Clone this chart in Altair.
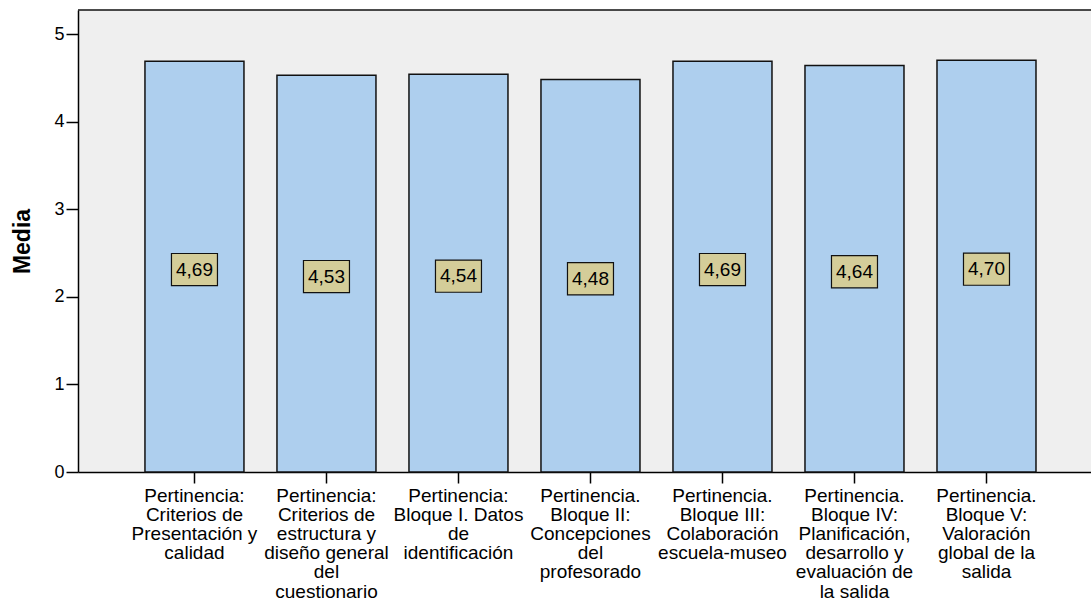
import altair as alt
import pandas as pd

# Category labels (line breaks mark where each axis label wraps)
categories = [
    "Pertinencia:\nCriterios de\nPresentación y\ncalidad",
    "Pertinencia:\nCriterios de\nestructura y\ndiseño general\ndel\ncuestionario",
    "Pertinencia:\nBloque I. Datos\nde\nidentificación",
    "Pertinencia.\nBloque II:\nConcepciones\ndel\nprofesorado",
    "Pertinencia.\nBloque III:\nColaboración\nescuela-museo",
    "Pertinencia.\nBloque IV:\nPlanificación,\ndesarrollo y\nevaluación de\nla salida",
    "Pertinencia.\nBloque V:\nValoración\nglobal de la\nsalida",
]
means = [4.69, 4.53, 4.54, 4.48, 4.69, 4.64, 4.70]
y_ticks = [0, 1, 2, 3, 4, 5]

df = pd.DataFrame({"categoria": categories, "media": means})

W, H = 1013, 462
FONT = "Liberation Sans"

x_enc = alt.X(
    "categoria:N",
    sort=categories,
    scale=alt.Scale(paddingInner=0.25, paddingOuter=0.462, align=0.549),
    axis=alt.Axis(
        title=None,
        labelAngle=0,
        labelExpr="split(datum.label, '\\n')",
        labelFontSize=19,
        labelLineHeight=19.2,
        labelBaseline="top",
        labelAlign="center",
        labelPadding=3,
        labelOverlap=False,
        labelLimit=0,
        tickSize=11,
    ),
)
y_enc = alt.Y(
    "media:Q",
    scale=alt.Scale(domain=[0, H / 87.6], nice=False, zero=True),
    axis=alt.Axis(
        values=y_ticks,
        format="d",
        title="Media",
        titleFont=FONT,
        titleFontSize=23,
        titleFontWeight="bold",
        titleColor="black",
        titlePadding=19,
        tickSize=12,
        labelPadding=2,
    ),
)

base = alt.Chart(df)

bars = base.mark_bar(fill="#aecfee", stroke="#111111", strokeWidth=1.5).encode(
    x=x_enc, y=y_enc
)

box_shape = "M-1,-0.7L1,-0.7L1,0.7L-1,0.7Z"
boxes = (
    base.transform_calculate(mitad="datum.media / 2")
    .mark_point(
        shape=box_shape,
        size=2116,
        filled=True,
        fill="#d4cd99",
        stroke="#111111",
        strokeWidth=1.2,
        opacity=1,
        yOffset=3,
    )
    .encode(x=alt.X("categoria:N", sort=categories), y=alt.Y("mitad:Q"))
)

texts = (
    base.transform_calculate(
        mitad="datum.media / 2",
        etiqueta="replace(format(datum.media, '.2f'), '.', ',')",
    )
    .mark_text(font=FONT, fontSize=19, color="black", baseline="middle", yOffset=3)
    .encode(x=alt.X("categoria:N", sort=categories), y=alt.Y("mitad:Q"), text="etiqueta:N")
)

top_line = (
    alt.Chart(pd.DataFrame({"z": [0]}))
    .mark_rule(color="#111111", strokeWidth=1.5)
    .encode(x=alt.value(0), x2=alt.value(W), y=alt.value(0))
)

chart = (
    alt.layer(bars, boxes, texts, top_line)
    .properties(
        width=W,
        height=H,
        padding={"left": 78, "top": 10, "right": 0, "bottom": 601 - 10 - H},
        autosize=alt.AutoSizeParams(type="none"),
        background="white",
    )
    .configure_view(fill="#efefef", stroke=None)
    .configure_axis(
        grid=False,
        domainColor="black",
        domainWidth=1.5,
        tickColor="black",
        tickWidth=1.5,
        labelFont=FONT,
        labelFontSize=18,
        labelColor="black",
    )
)

chart.save("out.html", embed_options={"renderer": "svg", "actions": False})
